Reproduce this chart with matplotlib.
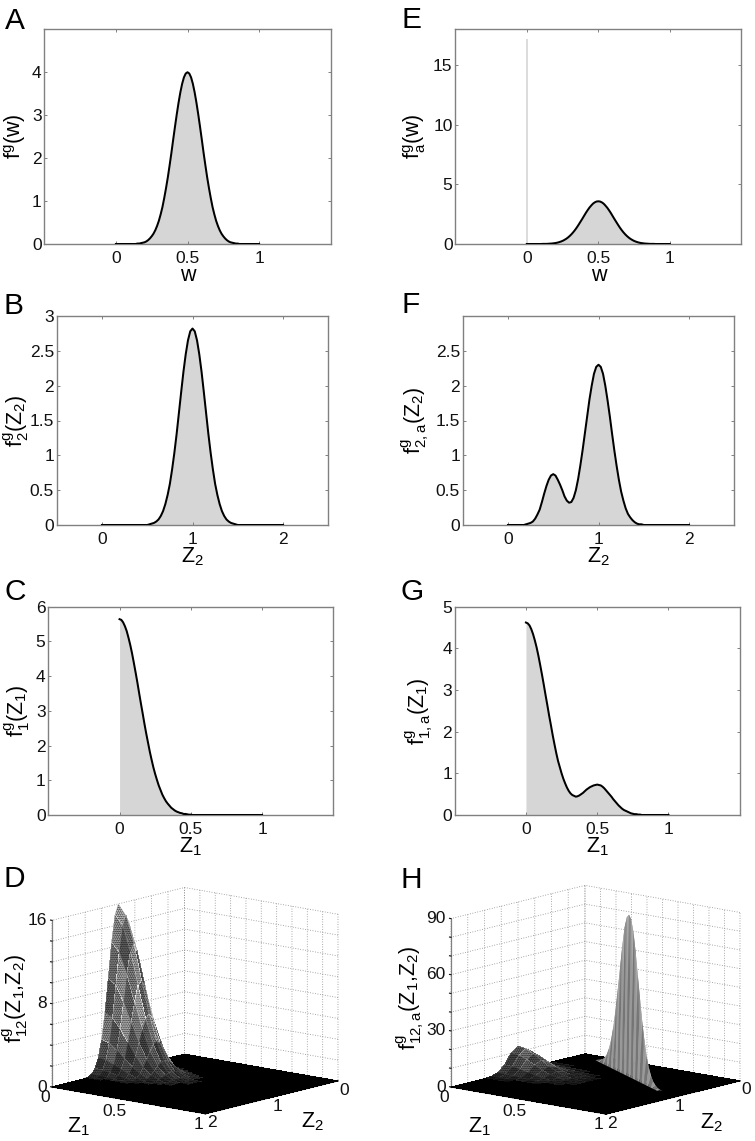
import numpy as np
import matplotlib
matplotlib.use('Agg')
import matplotlib.pyplot as plt
from mpl_toolkits.mplot3d import proj3d

plt.rcParams['font.family'] = ['Liberation Sans', 'DejaVu Sans']
plt.rcParams['mathtext.fontset'] = 'custom'
plt.rcParams['mathtext.rm'] = 'Liberation Sans'
plt.rcParams['mathtext.it'] = 'Liberation Sans:italic'
plt.rcParams['mathtext.default'] = 'regular'
plt.rcParams['hatch.linewidth'] = 0.8

W, H = 755, 1141
GREY = '#808080'
FILL = '#d6d6d6'

# ---------- curve data ----------
half_a = [0, 0, 0, 0, 0, 0, 0, 0, 0, 0, 0, 0, .01, .01, .02, .03, .04, .06, .09, .13, .18, .24, .32, .42, .54, .69, .86,
          1.07, 1.30, 1.55, 1.83, 2.12, 2.43, 2.73, 3.02, 3.29, 3.53, 3.73, 3.88, 3.97, 4.0]
w_a_y = half_a + half_a[-2::-1]
half_e = [0, 0, 0, 0, 0, 0, 0, 0, 0, .01, .01, .01, .02, .03, .04, .06, .08, .11, .15, .20, .26, .34, .43, .54, .67, .82,
          .99, 1.18, 1.39, 1.62, 1.86, 2.10, 2.35, 2.60, 2.83, 3.04, 3.22, 3.38, 3.49, 3.56, 3.58]
w_e_y = half_e + half_e[-2::-1]
e_spike = 17.2
half_b = [0, .01, .02, .03, .05, .08, .13, .20, .30, .43, .59, .80, 1.04, 1.31, 1.61, 1.91, 2.20, 2.45, 2.65, 2.78, 2.82]
z2_b_y = [0] * 20 + half_b + half_b[-2::-1] + [0] * 20
z2_f_y = [0, 0, 0, 0, 0, 0, 0, 0, .01, .02, .03, .05, .09, .15, .22, .33, .45, .56, .65, .71, .73, .71, .65, .58, .50,
          .41, .35, .32, .33, .39, .50, .66, .86, 1.08, 1.32, 1.56, 1.80, 2.00, 2.17, 2.27, 2.30, 2.27, 2.17, 2.00, 1.79,
          1.56, 1.31, 1.07, .85, .65, .48, .35, .24, .16, .11, .07, .04, .02, .01, .01,
          0, 0, 0, 0, 0, 0, 0, 0, 0, 0, 0, 0, 0, 0, 0, 0, 0, 0, 0, 0, 0]
z1_c_y = [5.64, 5.62, 5.55, 5.44, 5.30, 5.11, 4.90, 4.66, 4.39, 4.11, 3.82, 3.51, 3.21, 2.92, 2.62, 2.34, 2.08, 1.82, 1.59,
          1.37, 1.18, 1.01, .85, .72, .59, .49, .40, .33, .27, .21, .17, .13, .10, .08, .06, .05, .03, .03, .02, .01, .01]
z1_c_y = z1_c_y + [0] * (81 - len(z1_c_y))
z1_g_y = [4.62, 4.60, 4.55, 4.46, 4.34, 4.19, 4.02, 3.82, 3.60, 3.37, 3.13, 2.88, 2.64, 2.39, 2.16, 1.92, 1.70, 1.49, 1.30,
          1.15, 1.00, .87, .76, .66, .58, .52, .48, .46, .44, .45, .47, .50, .53, .57, .61, .64, .67, .69, .71, .72, .73,
          .72, .71, .68, .64, .59, .54, .49, .44, .38, .33, .28, .23, .19, .15, .12, .10, .08, .06, .04, .03, .02, .02,
          .01, .01]
z1_g_y = z1_g_y + [0] * (81 - len(z1_g_y))

# ---------- surface data ----------
d_z1 = [0, .05, .1, .15, .2, .25, .3, .35, .4, .45, .5, 1]
d_z2 = [0, .5, .55, .6, .65, .7, .75, .8, .85, .9, .95, 1, 1.05, 1.1, 1.15, 1.2, 1.25, 1.3, 1.35, 1.4, 1.45, 1.5, 2]
d_height = [
    [0, 0, 0, 0, 0, 0, 0, 0, 0, 0, 0, 0],
    [.03, .03, .02, .02, .01, .01, 0, 0, 0, 0, 0, 0],
    [.10, .09, .08, .06, .04, .02, .01, 0, 0, 0, 0, 0],
    [.29, .27, .22, .16, .11, .06, .03, .01, 0, 0, 0, 0],
    [.75, .70, .58, .43, .28, .16, .08, .04, .01, 0, 0, 0],
    [1.7, 1.6, 1.3, .96, .62, .35, .18, .08, .03, .01, 0, 0],
    [3.4, 3.2, 2.6, 1.9, 1.2, .70, .35, .16, .06, .02, .01, 0],
    [5.9, 5.5, 4.6, 3.4, 2.2, 1.2, .62, .28, .11, .04, .01, 0],
    [9.1, 8.6, 7.1, 5.2, 3.4, 1.9, .96, .43, .16, .06, .02, 0],
    [12.5, 11.7, 9.7, 7.1, 4.6, 2.6, 1.3, .58, .22, .08, .02, 0],
    [15, 14.1, 11.7, 8.6, 5.5, 3.2, 1.6, .70, .27, .09, .03, 0],
    [16, 15, 12.5, 9.1, 5.9, 3.4, 1.7, .75, .29, .10, .03, 0],
    [15, 14.1, 11.7, 8.6, 5.5, 3.2, 1.6, .70, .27, .09, .03, 0],
    [12.5, 11.7, 9.7, 7.1, 4.6, 2.6, 1.3, .58, .22, .08, .02, 0],
    [9.1, 8.6, 7.1, 5.2, 3.4, 1.9, .96, .43, .16, .06, .02, 0],
    [5.9, 5.5, 4.6, 3.4, 2.2, 1.2, .62, .28, .11, .04, .01, 0],
    [3.4, 3.2, 2.6, 1.9, 1.2, .70, .35, .16, .06, .02, .01, 0],
    [1.7, 1.6, 1.3, .96, .62, .35, .18, .08, .03, .01, 0, 0],
    [.75, .70, .58, .43, .28, .16, .08, .04, .01, 0, 0, 0],
    [.29, .27, .22, .16, .11, .06, .03, .01, 0, 0, 0, 0],
    [.10, .09, .08, .06, .04, .02, .01, 0, 0, 0, 0, 0],
    [.03, .03, .02, .02, .01, .01, 0, 0, 0, 0, 0, 0],
    [0, 0, 0, 0, 0, 0, 0, 0, 0, 0, 0, 0],
]
h_z1 = d_z1
h_z2 = [0, .5, .6, .7, .8, .9, 1, 1.1, 1.2, 1.3, 1.4, 1.5, 2]
h_height = [
    [0, 0, 0, 0, 0, 0, 0, 0, 0, 0, 0, 0],
    [.02, .02, .02, .01, .01, 0, 0, 0, 0, 0, 0, 0],
    [.24, .22, .18, .13, .09, .05, .02, .01, 0, 0, 0, 0],
    [1.4, 1.3, 1.1, .79, .51, .29, .15, .07, .02, .01, 0, 0],
    [4.8, 4.5, 3.8, 2.8, 1.8, 1.0, .51, .23, .09, .03, .01, 0],
    [10.2, 9.6, 8.0, 5.8, 3.8, 2.1, 1.1, .48, .18, .07, .02, 0],
    [13, 12.3, 10.2, 7.5, 4.8, 2.8, 1.4, .60, .24, .08, .02, 0],
    [10.2, 9.6, 8.0, 5.8, 3.8, 2.1, 1.1, .48, .18, .07, .02, 0],
    [4.8, 4.5, 3.8, 2.8, 1.8, 1.0, .51, .23, .09, .03, .01, 0],
    [1.4, 1.3, 1.1, .79, .51, .29, .15, .07, .02, .01, 0, 0],
    [.24, .22, .18, .13, .09, .05, .02, .01, 0, 0, 0, 0],
    [.02, .02, .02, .01, .01, 0, 0, 0, 0, 0, 0, 0],
    [0, 0, 0, 0, 0, 0, 0, 0, 0, 0, 0, 0],
]
ridge_pos = [.15, .175, .2, .225, .25, .275, .3, .325, .35, .375, .4, .425, .45, .475, .5,
             .525, .55, .575, .6, .625, .65, .675, .7, .725, .75, .775, .8, .825, .85]
ridge_height = [.4, .9, 1.8, 3.2, 5.7, 9.6, 15.2, 22.8, 32.6, 44, 56, 68, 78, 84, 86,
                84, 78, 68, 56, 44, 32.6, 22.8, 15.2, 9.6, 5.7, 3.2, 1.8, .9, .4]

fig = plt.figure(figsize=(W / 100, H / 100), dpi=100, facecolor='white')
TICK_FS = 12.5
LABEL_FS = 15.5


def px_text(x, y, s, **kw):
    return fig.text(x / W, 1 - y / H, s, **kw)


def panel2d(box, xlim, ylim, xs, ys, xticks, yticks, xticklabels, yticklabels, xlabel, ylabel,
            ylabel_x, xlabel_y):
    l, t, r, b = box
    ax = fig.add_axes([l / W, 1 - b / H, (r - l) / W, (b - t) / H])
    ax.fill_between(xs, 0, ys, color=FILL, lw=0, zorder=1)
    ax.plot(xs, ys, color='black', lw=1.45, zorder=3, solid_joinstyle='round')
    ax.set_xlim(*xlim)
    ax.set_ylim(*ylim)
    ax.set_xticks(xticks, xticklabels)
    ax.set_yticks(yticks, yticklabels)
    ax.tick_params(axis='both', direction='in', length=2, width=0.7, color=GREY, top=True, right=True,
                   labelsize=TICK_FS, labelcolor='#111111')
    ax.tick_params(axis='x', pad=5)
    ax.tick_params(axis='y', pad=2)
    for s in ax.spines.values():
        s.set_color(GREY)
        s.set_linewidth(1.0)
    ax.set_xlabel(xlabel, fontsize=LABEL_FS, va='center')
    ax.set_ylabel(ylabel, fontsize=LABEL_FS, va='center')
    ax.yaxis.set_label_coords((ylabel_x - l) / (r - l), 0.5)
    ax.xaxis.set_label_coords(0.5, (b - xlabel_y) / (b - t))
    return ax


x_unit = np.linspace(0, 1, 81)
x_two = np.linspace(0, 2, 81)
xt1, xl1 = [0, .5, 1], ['0', '0.5', '1']
xt2, xl2 = [0, 1, 2], ['0', '1', '2']

panel2d((44.3, 29.3, 330.7, 244), (-.5, 1.5), (0, 5), x_unit, w_a_y, xt1, [0, 1, 2, 3, 4], xl1,
        ['0', '1', '2', '3', '4'], 'w', 'f$^{g}$(w)', 15, 276)
ax_e = panel2d((455.3, 29.3, 741.3, 244), (-.5, 1.5), (0, 18), x_unit, w_e_y, xt1, [0, 5, 10, 15], xl1,
               ['0', '5', '10', '15'], 'w', 'f$^{g}_{a}$(w)', 415, 276)
ax_e.vlines(0, 0, e_spike, color='#dcdcdc', lw=1.4, zorder=2)
panel2d((56.7, 316, 328.3, 525), (-.5, 2.5), (0, 3), x_two, z2_b_y, xt2, [0, .5, 1, 1.5, 2, 2.5, 3], xl2,
        ['0', '0.5', '1', '1.5', '2', '2.5', '3'], 'Z$_{2}$', 'f$^{g}_{2}$(Z$_{2}$)', 16, 557)
panel2d((462.7, 316, 734.3, 525), (-.5, 2.5), (0, 3), x_two, z2_f_y, xt2, [0, .5, 1, 1.5, 2, 2.5], xl2,
        ['0', '0.5', '1', '1.5', '2', '2.5'], 'Z$_{2}$', 'f$^{g}_{2,a}$(Z$_{2}$)', 415, 557)
panel2d((48.3, 606.7, 333.3, 815), (-.5, 1.5), (0, 6), x_unit, z1_c_y, xt1, [0, 1, 2, 3, 4, 5, 6], xl1,
        ['0', '1', '2', '3', '4', '5', '6'], 'Z$_{1}$', 'f$^{g}_{1}$(Z$_{1}$)', 17, 847)
panel2d((454.7, 606.7, 739.7, 815), (-.5, 1.5), (0, 5), x_unit, z1_g_y, xt1, [0, 1, 2, 3, 4, 5], xl1,
        ['0', '1', '2', '3', '4', '5'], 'Z$_{1}$', 'f$^{g}_{1,a}$(Z$_{1}$)', 419, 847)


def facet_colours(Z, low, top, lo_grey, hi_grey, spread):
    Z = np.asarray(Z, float)
    mean = (Z[:-1, :-1] + Z[1:, :-1] + Z[:-1, 1:] + Z[1:, 1:]) / 4
    i, j = np.indices(mean.shape)
    v = ((i * 5 + j * 3) % 7) / 6
    share = np.clip(mean / top, 0, 1) ** .5
    level = lo_grey + (hi_grey - lo_grey) * share + spread * share * (v - .5)
    g = np.clip(np.where(mean < low, 0, level), 0, 1)
    return np.dstack([g, g, g, np.ones_like(g)])


def setup3d(zmax, zticks, zlabels):
    ax = fig.add_axes([.1, .1, .3, .3], projection='3d', proj_type='ortho', computed_zorder=False)
    ax.set_facecolor('none')
    ax.set_xlim(0, 1, view_margin=0)
    ax.set_ylim(2, 0, view_margin=0)
    ax.set_zlim(0, zmax, view_margin=0)
    ax.view_init(elev=12, azim=-50)
    ax.set_box_aspect((201, 207, 171))
    ax.set_xticks(np.arange(0, 1.01, .1), ['0', '', '', '', '', '0.5', '', '', '', '', '1'])
    ax.set_yticks(np.arange(0, 2.01, .25), ['0', '', '', '', '1', '', '', '', '2'])
    ax.set_zticks(zticks, zlabels)
    for a in (ax.xaxis, ax.yaxis, ax.zaxis):
        a.set_pane_color((1, 1, 1, 0))
        a.pane.set_edgecolor('none')
        a.line.set_color(GREY)
        a.line.set_linewidth(.9)
        a._axinfo['grid'].update(color='#8c8c8c', linestyle=(0, (1, 2)), linewidth=.6)
        a._axinfo['tick'].update(inward_factor=0.0, outward_factor=0.12)
    ax.zaxis.set_ticks_position('upper')
    ax.tick_params(axis='both', labelsize=TICK_FS, colors='#111111', pad=-6)
    ax.tick_params(axis='y', pad=-7)
    ax.tick_params(axis='z', labelsize=TICK_FS, colors='#111111', pad=-5.7)
    for t in ax.xaxis.get_ticklabels():
        t.set_ha('right')
    for t in ax.yaxis.get_ticklabels():
        t.set_ha('left')
    for t in ax.zaxis.get_ticklabels():
        t.set_ha('right')
        t.set_va('center')
    return ax


def fit(ax, left, right):
    s0 = 300
    ax.set_position([.1, .1, s0 / W, s0 / H])
    ax.apply_aspect()
    M = ax.get_proj()
    pts = []
    for p in [(0, 2, 0), (1, 0, 0)]:
        x, y, _ = proj3d.proj_transform(*p, M)
        pts.append(ax.transData.transform((x, y)))
    (xl, yl), (xr, yr) = pts
    k = (right[0] - left[0]) / (xr - xl)
    s = s0 * k
    ax.set_position([.1, .1, s / W, s / H])
    ax.apply_aspect()
    x, y, _ = proj3d.proj_transform(0, 2, 0, M)
    x0, y0 = ax.transData.transform((x, y))
    ax.set_position([.1 + (left[0] - x0) / W, .1 + (H - left[1] - y0) / H, s / W, s / H])


# ---------- panel D ----------
ax_d = setup3d(16, np.arange(0, 17, 2), ['0', '', '', '', '8', '', '', '', '16'])
X, Y = np.meshgrid(d_z1, d_z2)
surf = ax_d.plot_surface(X, Y, np.array(d_height, float), rstride=1, cstride=1, shade=False, antialiased=False,
                         linewidth=0, facecolors=facet_colours(d_height, .05, 6, .10, .72, .45))
surf.set_hatch('.........')
fit(ax_d, (52, 1087), (338, 1080))

# ---------- panel H ----------
ax_h = setup3d(90, np.arange(0, 91, 10), ['0', '', '', '30', '', '', '60', '', '', '90'])
X, Y = np.meshgrid(h_z1, h_z2)
surf = ax_h.plot_surface(X, Y, np.array(h_height, float), rstride=1, cstride=1, shade=False, antialiased=False,
                         linewidth=0, zorder=1, facecolors=facet_colours(h_height, .08, 10, .08, .55, .3))
surf.set_hatch('.........')
rp = np.array(ridge_pos)
rh = np.array(ridge_height)
foot = .0125
fin_x = np.vstack([rp + foot, rp, rp - foot])
fin_y = np.vstack([rp - foot, rp, rp + foot])
fin_z = np.vstack([0 * rh, rh, 0 * rh])
g = np.zeros((2, len(rp) - 1))
g[0] = np.where(np.arange(len(rp) - 1) % 2 == 0, .55, .66)
g[1] = np.where(np.arange(len(rp) - 1) % 2 == 0, .46, .60)
ax_h.plot_surface(fin_x, fin_y, fin_z, rstride=1, cstride=1, shade=False, antialiased=True, linewidth=0,
                  zorder=2, facecolors=np.dstack([g, g, g, np.ones_like(g)]))
fit(ax_h, (451, 1087), (740, 1080))

# ---------- titles of the 3D axes ----------
for x, y, s in [(78, 1127, 'Z$_{1}$'), (312, 1122, 'Z$_{2}$'), (479, 1127, 'Z$_{1}$'), (711, 1123, 'Z$_{2}$')]:
    px_text(x, y, s, fontsize=LABEL_FS, ha='center', va='center')
px_text(15, 998, 'f$^{g}_{12}$(Z$_{1}$,Z$_{2}$)', fontsize=LABEL_FS, rotation=90, ha='center', va='center')
px_text(410, 998, 'f$^{g}_{12,a}$(Z$_{1}$,Z$_{2}$)', fontsize=LABEL_FS, rotation=90, ha='center', va='center')

# ---------- panel letters ----------
for x, y, s in [(5, 29, 'A'), (3, 314, 'B'), (4, 600, 'C'), (3, 887, 'D'),
                (401, 28, 'E'), (401, 313, 'F'), (401, 600, 'G'), (400, 888, 'H')]:
    px_text(x, y, s, fontsize=21.5, ha='left', va='baseline')

fig.savefig('out.png', dpi=100, facecolor='white')
